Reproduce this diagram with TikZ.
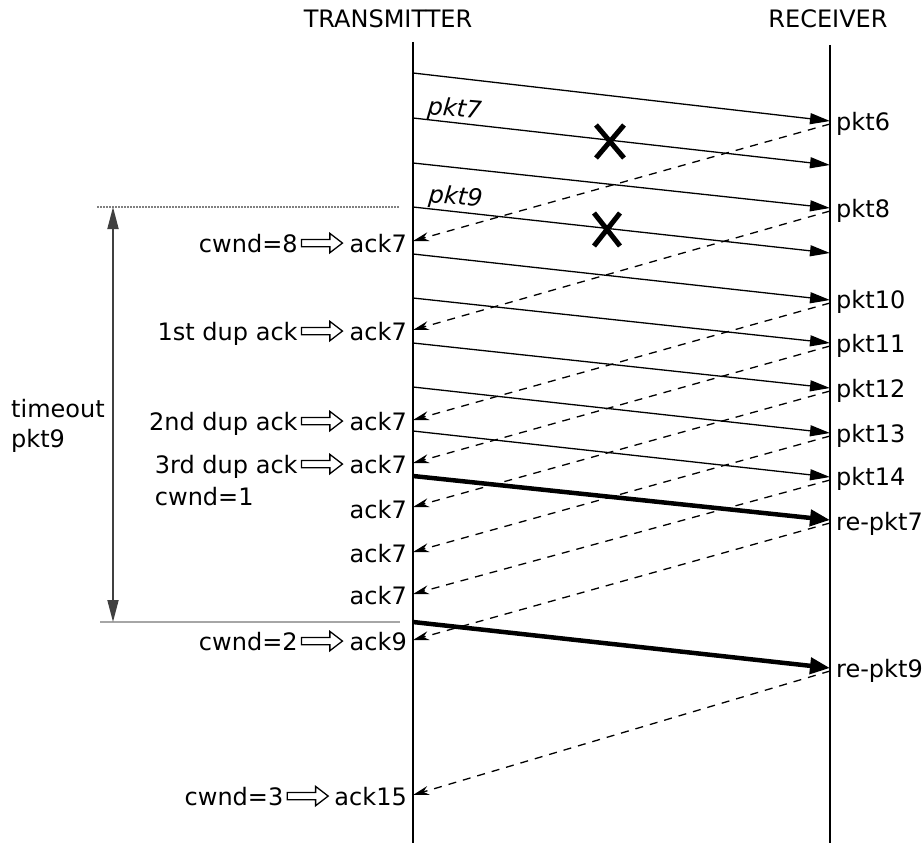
\documentclass[tikz,border=0pt]{standalone}
\usepackage{fontspec}
\setmainfont{DejaVu Sans}
\usetikzlibrary{arrows.meta,shapes.arrows,calc}
\begin{document}
\begin{tikzpicture}[x=1pt,y=-1pt,
  txt/.style={inner sep=0pt, font=\fontsize{24}{30}\selectfont},
  itxt/.style={inner sep=0pt, font=\fontsize{24}{30}\selectfont\itshape, rotate=-5, anchor=base west},
  life/.style={line width=1.4pt},
  pkt/.style={line width=1.3pt, -{Triangle[length=20pt,width=11pt]}},
  rpkt/.style={line width=4.5pt, -{Triangle[length=20pt,width=16pt]}},
  ack/.style={line width=1.3pt, dash pattern=on 8pt off 7pt, -{Stealth[length=16pt,width=9pt]}},
  harrow/.style={single arrow, draw, line width=1.3pt, minimum height=41pt, single arrow head extend=6pt, single arrow tip angle=75, inner sep=3pt, anchor=east},
  xmark/.style={line width=5pt},
]
\useasboundingbox (0,0) rectangle (923,843);

% headers
\node[txt, anchor=base] (tx) at (388,28) {TRANSMITTER};
\node[txt, anchor=base] (rx) at (828,28) {RECEIVER};

% lifelines
\coordinate (Ttop) at (413,42);
\coordinate (Tbot) at (413,843);
\coordinate (Rtop) at (830,45);
\coordinate (Rbot) at (830,843);
\draw[life] (Ttop) -- (Tbot);
\draw[life] (Rtop) -- (Rbot);

% packet start points on transmitter / end points on receiver
\foreach \n/\ys/\ye in {1/73/121, 2/118/165, 3/163/208, 4/207/253, 5/254/300, 6/298/343, 7/343/388, 8/387/433, 9/431/477, 10/476/520, 11/622/668} {
  \coordinate (ps\n) at (413,\ys);
  \coordinate (pe\n) at (830,\ye);
}
\foreach \n in {1,...,9} { \draw[pkt] (ps\n) -- (pe\n); }
\draw[rpkt] (ps10) -- (pe10);
\draw[rpkt] (ps11) -- (pe11);

% ack start points on receiver / end points on transmitter
\foreach \n/\ys/\ye in {1/124/241, 2/211/330, 3/303/420, 4/346/463, 5/391/507, 6/436/552, 7/480/594, 8/523/640, 9/671/795} {
  \coordinate (as\n) at (830,\ys);
  \coordinate (ae\n) at (413,\ye);
  \draw[ack] (as\n) -- (ae\n);
}

% lost packets
\draw[xmark] (596,125) -- (624,158) (596,158) -- (624,125);
\draw[xmark] (594,213) -- (620,246) (594,246) -- (620,213);

% packet labels on the lost ones
\node[itxt] (l7) at (427,114) {pkt7};
\node[itxt] (l9) at (428,202) {pkt9};

% receiver labels
\node[txt, anchor=base west] (r6) at (836,130) {pkt6};
\node[txt, anchor=base west] (r8) at (836,217) {pkt8};
\node[txt, anchor=base west] (r10) at (836,308) {pkt10};
\node[txt, anchor=base west] (r11) at (836,352) {pkt11};
\node[txt, anchor=base west] (r12) at (836,397) {pkt12};
\node[txt, anchor=base west] (r13) at (836,442) {pkt13};
\node[txt, anchor=base west] (r14) at (836,485) {pkt14};
\node[txt, anchor=base west] (r15) at (836,530) {re-pkt7};
\node[txt, anchor=base west] (r16) at (836,677) {re-pkt9};

% ack labels on transmitter side
\node[txt, anchor=base east] (a1) at (407,252) {ack7};
\node[txt, anchor=base east] (a2) at (407,340) {ack7};
\node[txt, anchor=base east] (a3) at (407,430) {ack7};
\node[txt, anchor=base east] (a4) at (407,473) {ack7};
\node[txt, anchor=base east] (a5) at (407,518) {ack7};
\node[txt, anchor=base east] (a6) at (407,562) {ack7};
\node[txt, anchor=base east] (a7) at (407,604) {ack7};
\node[txt, anchor=base east] (a8) at (407,650) {ack9};
\node[txt, anchor=base east] (a9) at (407,805) {ack15};

% hollow arrows and event labels
\node[harrow] (h1) at ([xshift=-6pt]a1.west) {};
\node[harrow] (h2) at ([xshift=-6pt]a2.west) {};
\node[harrow] (h3) at ([xshift=-6pt]a3.west) {};
\node[harrow] (h4) at ([xshift=-6pt]a4.west) {};
\node[harrow] (h8) at ([xshift=-6pt]a8.west) {};
\node[harrow] (h9) at ([xshift=-5pt]a9.west) {};

\path (h1.west |- a1.base) ++(-3,0) node[txt, anchor=base east] (c1) {cwnd=8};
\path (h2.west |- a2.base) ++(-3,0) node[txt, anchor=base east] (c2) {1st dup ack};
\path (h3.west |- a3.base) ++(-3,0) node[txt, anchor=base east] (c3) {2nd dup ack};
\path (h4.west |- a4.base) ++(-3,0) node[txt, anchor=base east] (c4) {3rd dup ack};
\node[txt, anchor=base west] (c4b) at ([yshift=-32pt]c4.base west) {cwnd=1};
\path (h8.west |- a8.base) ++(-3,0) node[txt, anchor=base east] (c8) {cwnd=2};
\path (h9.west |- a9.base) ++(-3,0) node[txt, anchor=base east] (c9) {cwnd=3};

% timeout
\coordinate (dl1) at (97,207);
\coordinate (dl2) at (400,207);
\coordinate (gl1) at (100,622);
\coordinate (gl2) at (400,622);
\draw[gray, line width=1.2pt, dash pattern=on 1.5pt off 1.5pt] (dl1) -- (dl2);
\draw[black!35, line width=1.5pt] (gl1) -- (gl2);
\coordinate (tu) at (113,207);
\coordinate (td) at (113,622);
\draw[black!75, line width=1.8pt, {Triangle[length=22pt,width=11pt]}-{Triangle[length=22pt,width=11pt]}] (tu) -- (td);
\node[txt, anchor=base west, align=left] (to) at (11,447) {timeout\\pkt9};
\end{tikzpicture}
\end{document}
